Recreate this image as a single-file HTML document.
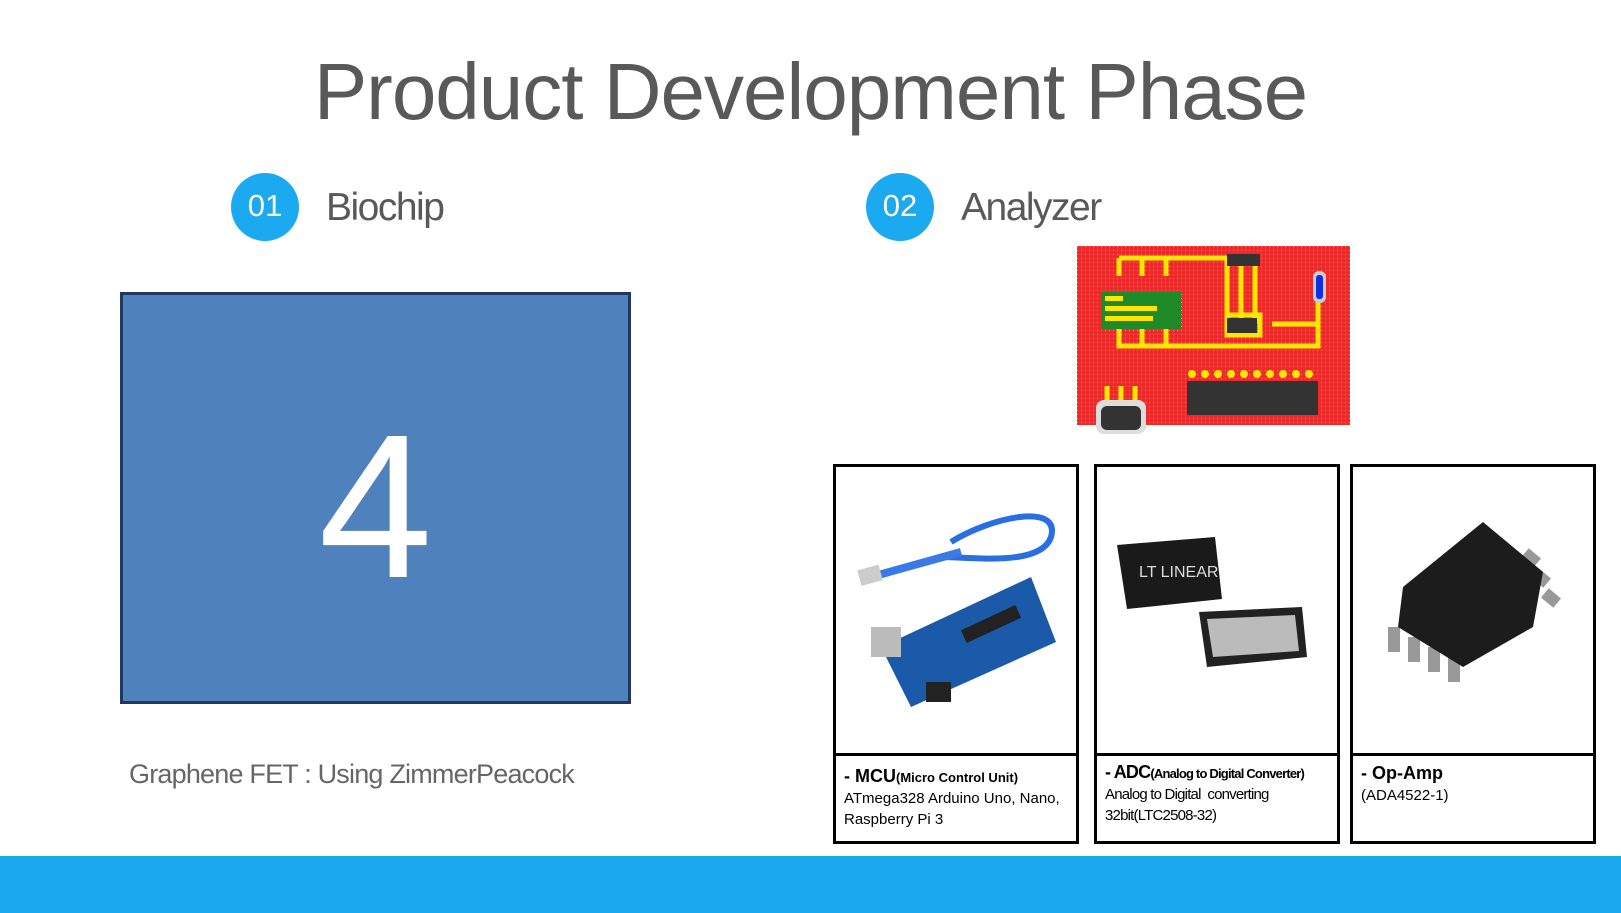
<!DOCTYPE html>
<html><head><meta charset="utf-8"><style>
body{margin:0;width:1621px;height:913px;position:relative;background:#fff;overflow:hidden;font-family:"Liberation Sans",sans-serif}
.a{position:absolute}
.circ{position:absolute;width:68px;height:68px;border-radius:50%;background:#1ba9ef;color:#fff;font-size:31px;text-align:center;line-height:66px}
.h{position:absolute;color:#595959;font-size:39px;letter-spacing:-1.5px}
.box{position:absolute;border:3px solid #000;box-sizing:border-box;background:#fff}
.div{position:absolute;left:0;right:0;top:286px;border-top:3px solid #000}
.t{position:absolute;left:8px;font-size:15px;color:#000;line-height:21px;font-family:"Liberation Sans Narrow","Liberation Sans",sans-serif}
</style></head><body>
<div class="a" style="left:0;top:46px;width:1621px;text-align:center;font-size:80px;color:#595959;letter-spacing:-1px">Product Development Phase</div>
<div class="circ" style="left:231px;top:173px">01</div>
<div class="h" style="left:326px;top:186px">Biochip</div>
<div class="circ" style="left:866px;top:173px">02</div>
<div class="h" style="left:961px;top:186px">Analyzer</div>
<div class="a" style="left:120px;top:292px;width:511px;height:412px;background:#4f81bd;border:3px solid #1f3864;box-sizing:border-box;color:#fff;font-size:205px;text-align:center;line-height:424px">4</div>
<div class="a" style="left:129px;top:759px;font-size:27px;color:#666;letter-spacing:-0.8px">Graphene FET : Using ZimmerPeacock</div>

<svg class="a" style="left:1077px;top:246px" width="273" height="190">
<defs><pattern id="g" width="4" height="4" patternUnits="userSpaceOnUse"><rect width="4" height="4" fill="#ee2a2a"/><rect width="1" height="1" fill="#f88"/></pattern></defs>
<rect width="273" height="179" fill="url(#g)"/>
<g stroke="#ffe600" stroke-width="5" fill="none">
<path d="M42 12H150M42 12V30M65 12V30M89 12V30M42 82V100H241V40M42 82M65 82V100M89 82V100M150 12V78M164 12V78M178 12V78M195 78H241"/>
<rect x="150" y="69" width="33" height="20"/>
<path d="M30 140V160M44 140V160M58 140V160"/>
</g>
<rect x="150" y="72" width="30" height="15" fill="#333"/>
<rect x="150" y="8" width="33" height="12" fill="#333"/>
<rect x="24" y="46" width="80" height="37" fill="#1e8a28"/>
<rect x="28" y="50" width="18" height="5" fill="#ffe600"/><rect x="28" y="60" width="52" height="5" fill="#ffe600"/><rect x="28" y="70" width="48" height="5" fill="#ffe600"/>
<rect x="236" y="25" width="13" height="32" rx="6" fill="#ccc"/><rect x="239" y="29" width="7" height="24" rx="3" fill="#1030e0"/>
<rect x="110" y="135" width="131" height="34" fill="#333"/>
<g fill="#ffe600"><circle cx="115" cy="128" r="4"/><circle cx="128" cy="128" r="4"/><circle cx="141" cy="128" r="4"/><circle cx="154" cy="128" r="4"/><circle cx="167" cy="128" r="4"/><circle cx="180" cy="128" r="4"/><circle cx="193" cy="128" r="4"/><circle cx="206" cy="128" r="4"/><circle cx="219" cy="128" r="4"/><circle cx="232" cy="128" r="4"/></g>
<rect x="19" y="154" width="50" height="34" rx="8" fill="#ddd"/><rect x="24" y="160" width="40" height="24" rx="6" fill="#333"/>
</svg>

<div class="box" style="left:833px;top:464px;width:246px;height:380px">
<svg class="a" style="left:15px;top:30px" width="215" height="220">
<path d="M100 45C140 20 210 5 200 40C190 70 120 60 90 60" stroke="#2a6fe0" stroke-width="6" fill="none"/>
<path d="M20 80L110 55" stroke="#3a7ae8" stroke-width="8"/>
<rect x="8" y="70" width="22" height="16" fill="#ccc" transform="rotate(-15 20 78)"/>
<polygon points="30,150 180,80 205,145 60,210" fill="#1b5aa8"/>
<rect x="20" y="130" width="30" height="30" fill="#bbb"/>
<rect x="75" y="185" width="25" height="20" fill="#222"/>
<rect x="110" y="120" width="60" height="14" fill="#222" transform="rotate(-25 140 127)"/>
</svg>
<div class="div"></div>
<div class="t" style="top:299px"><b style="font-size:18px">- MCU</b><b style="font-size:13px">(Micro Control Unit)</b><br>ATmega328 Arduino Uno, Nano,<br>Raspberry Pi 3</div>
</div>
<div class="box" style="left:1094px;top:464px;width:246px;height:380px">
<svg class="a" style="left:20px;top:70px" width="210" height="140">
<polygon points="0,8 98,0 105,62 10,72" fill="#1a1a1a"/>
<text x="22" y="40" fill="#ddd" font-size="16" font-family="Liberation Sans Narrow, Liberation Sans, sans-serif">LT LINEAR</text>
<polygon points="82,75 185,70 190,120 90,130" fill="#222"/>
<polygon points="90,82 178,78 182,114 96,120" fill="#bbb"/>
</svg>
<div class="div"></div>
<div class="t" style="top:295px;letter-spacing:-0.8px"><b style="font-size:18px">- ADC</b><b style="font-size:13px">(Analog to Digital Converter)</b><br>Analog to Digital &nbsp;converting<br>32bit(LTC2508-32)</div>
</div>
<div class="box" style="left:1350px;top:464px;width:246px;height:380px">
<svg class="a" style="left:30px;top:50px" width="190" height="190">
<g fill="#999"><rect x="140" y="35" width="16" height="12" transform="rotate(40 148 41)"/><rect x="150" y="55" width="16" height="12" transform="rotate(40 158 61)"/><rect x="160" y="75" width="16" height="12" transform="rotate(40 168 81)"/>
<rect x="5" y="110" width="12" height="25"/><rect x="25" y="120" width="12" height="25"/><rect x="45" y="130" width="12" height="25"/><rect x="65" y="140" width="12" height="25"/></g>
<polygon points="20,70 100,5 160,55 150,110 80,150 15,110" fill="#1c1c1c"/>
</svg>
<div class="div"></div>
<div class="t" style="top:296px"><b style="font-size:18px">- Op-Amp</b><br>(ADA4522-1)</div>
</div>
<div class="a" style="left:0;top:856px;width:1621px;height:57px;background:#1aa7ec"></div>
</body></html>
